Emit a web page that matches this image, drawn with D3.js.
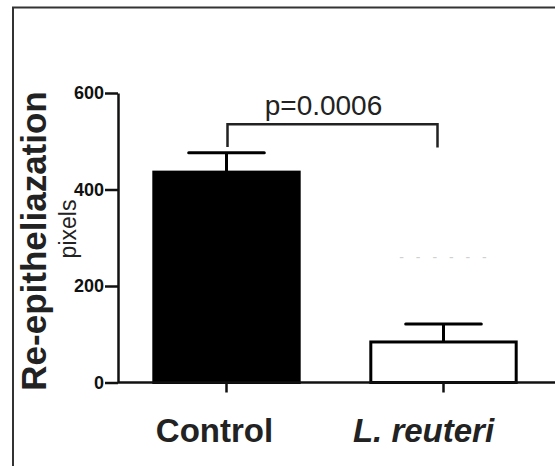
<!DOCTYPE html>
<html>
<head>
<meta charset="utf-8">
<script src="https://cdn.jsdelivr.net/npm/d3@7"></script>
<style>
  html, body { margin: 0; padding: 0; background: #fff; }
  svg { display: block; }
  text { font-family: "Liberation Sans", Arial, Helvetica, sans-serif; }
</style>
</head>
<body>
<div id="chart"></div>
<script>
// ---- data ----
const categories = ["Control", "L. reuteri"];
const means = [436, 84];
const sems = [40, 37];
const fills = ["#000000", "#ffffff"];
const yTicks = [0, 200, 400, 600];
const yTitle = "Re-epitheliazation";
const ySubTitle = "pixels";
const pLabel = "p=0.0006";
const bracketTop = 535;          // value of bracket horizontal line
const bracketLegs = [488, 487];  // leg bottoms (values)

// ---- layout ----
const W = 555, H = 466;
const svg = d3.select("#chart").append("svg").attr("width", W).attr("height", H);

// outer frame (cropped panel border)
svg.append("path")
  .attr("d", `M13,${H} L13,7.5 L${W},7.5`)
  .attr("fill", "none").attr("stroke", "#333").attr("stroke-width", 2);

const x = d3.scaleBand().domain(categories).range([118, 552])
  .paddingInner(0.33).paddingOuter(0.165);
const y = d3.scaleLinear().domain([0, 600]).range([382.5, 93]);

// bars
svg.selectAll("rect.bar").data(categories).join("rect")
  .attr("class", "bar")
  .attr("x", d => x(d))
  .attr("width", x.bandwidth())
  .attr("y", (d, i) => y(means[i]))
  .attr("height", (d, i) => y(0) - y(means[i]))
  .attr("fill", (d, i) => fills[i])
  .attr("stroke", "#000").attr("stroke-width", 3);

// error bars
const eb = svg.append("g").attr("stroke", "#000").attr("stroke-width", 3);
categories.forEach((c, i) => {
  const cx = x(c) + x.bandwidth() / 2;
  const cap = x.bandwidth() * 0.52;
  eb.append("line").attr("x1", cx).attr("x2", cx)
    .attr("y1", y(means[i])).attr("y2", y(means[i] + sems[i]));
  eb.append("line").attr("x1", cx - cap / 2).attr("x2", cx + cap / 2)
    .attr("y1", y(means[i] + sems[i])).attr("y2", y(means[i] + sems[i]))
    .attr("stroke-linecap", "round");
});

// y axis
const yAxis = svg.append("g").attr("transform", "translate(118,0)")
  .call(d3.axisLeft(y).tickValues(yTicks).tickSize(13).tickSizeOuter(0).tickPadding(1));
yAxis.select(".domain").attr("stroke", "#111").attr("stroke-width", 2.5);
yAxis.selectAll(".tick line").attr("stroke", "#111").attr("stroke-width", 2.5);
yAxis.selectAll(".tick text")
  .attr("font-size", 18).attr("font-weight", "bold").attr("fill", "#111")
  .attr("font-family", "'Liberation Sans', Arial, sans-serif");

// x axis
svg.append("line").attr("x1", x.range()[0]).attr("x2", W)
  .attr("y1", y(0)).attr("y2", y(0))
  .attr("stroke", "#111").attr("stroke-width", 2.5);
const labelShift = [-12, -20];
const xAxis = svg.append("g").attr("transform", `translate(0,${y(0)})`)
  .call(d3.axisBottom(x).tickSize(10).tickSizeOuter(0).tickPadding(26));
xAxis.select(".domain").remove();
xAxis.selectAll(".tick line").attr("stroke", "#111").attr("stroke-width", 2.5);
xAxis.selectAll(".tick text")
  .attr("font-size", 33).attr("font-weight", "bold").attr("fill", "#222")
  .attr("font-family", "'Liberation Sans', Arial, sans-serif")
  .attr("font-style", d => d === "L. reuteri" ? "italic" : "normal")
  .attr("dx", (d, i) => labelShift[i])
  .attr("dy", "0.71em");

// y titles
svg.append("text")
  .attr("transform", `translate(46,${241}) rotate(-90)`)
  .attr("text-anchor", "middle")
  .attr("font-size", 35).attr("font-weight", "bold").attr("fill", "#222")
  .text(yTitle);
svg.append("text")
  .attr("transform", `translate(76,${229}) rotate(-90)`)
  .attr("text-anchor", "middle")
  .attr("font-size", 23).attr("fill", "#222")
  .text(ySubTitle);

// significance bracket
const bx1 = x(categories[0]) + x.bandwidth() / 2 + 1;
const bx2 = x(categories[1]) + x.bandwidth() / 2 - 6;
svg.append("path")
  .attr("d", `M${bx1},${y(bracketLegs[0])} L${bx1},${y(bracketTop)} L${bx2},${y(bracketTop)} L${bx2},${y(bracketLegs[1])}`)
  .attr("fill", "none").attr("stroke", "#222").attr("stroke-width", 2.5);
svg.append("text")
  .attr("x", (bx1 + bx2) / 2 - 9).attr("y", y(bracketTop) - 9)
  .attr("text-anchor", "middle")
  .attr("font-size", 28).attr("fill", "#222")
  .text(pLabel);

// faint ghost artifact
svg.append("text")
  .attr("x", 445).attr("y", 262).attr("text-anchor", "middle")
  .attr("font-size", 14).attr("fill", "#d0d0d0").attr("letter-spacing", 4)
  .text("-  - - - - -");
</script>
</body>
</html>
